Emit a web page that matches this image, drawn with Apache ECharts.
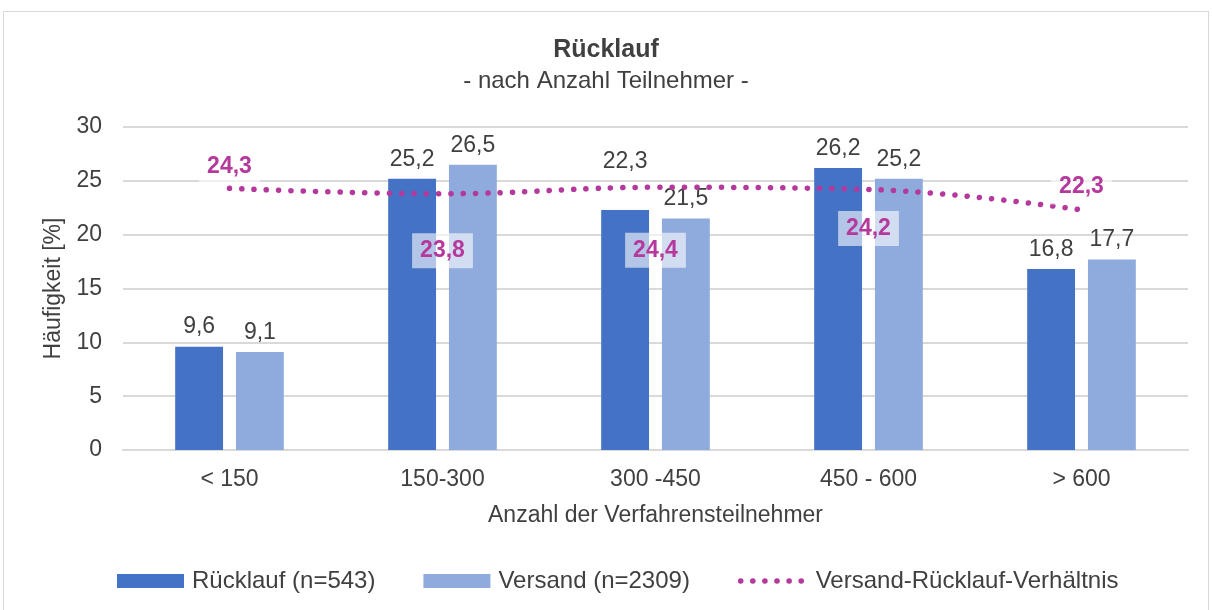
<!DOCTYPE html>
<html>
<head>
<meta charset="utf-8">
<script src="https://cdn.jsdelivr.net/npm/echarts@6/dist/echarts.min.js"></script>
<style>
  html, body { margin: 0; padding: 0; background: #fff; }
  #frame { position: absolute; left: 3px; top: 11px; width: 1206px; height: 610px; border: 1px solid #d9d9d9; box-sizing: border-box; }
  #chart { position: absolute; left: 0; top: 0; width: 1212px; height: 610px; }
</style>
</head>
<body>
<div id="frame"></div>
<div id="chart"></div>
<script>
var categories = ['< 150', '150-300', '300 -450', '450 - 600', '> 600'];
var ruecklauf = [9.6, 25.2, 22.3, 26.2, 16.8];
var versand = [9.1, 26.5, 21.5, 25.2, 17.7];
var verhaeltnis = [24.3, 23.8, 24.4, 24.2, 22.3];
// where each ratio label sits, relative to its point
var labelOffsets = [[0, -22], [0, 57], [0, 63], [0, 39], [0, -23]];

var font = 'Liberation Sans, Arial, sans-serif';
var chart = echarts.init(document.getElementById('chart'));

var lineData = [];
for (var i = 0; i < verhaeltnis.length; i++) {
  lineData.push({
    value: verhaeltnis[i],
    label: { offset: labelOffsets[i] }
  });
}

// the 300-450 label is pushed up above the dotted line
var ruecklaufData = [];
for (var i = 0; i < ruecklauf.length; i++) {
  var item = { value: ruecklauf[i] };
  if (i == 2) item.label = { offset: [0, -29] };
  ruecklaufData.push(item);
}

function komma(p) {
  return String(p.value).replace('.', ',');
}

chart.setOption({
  animation: false,
  textStyle: { fontFamily: font },
  title: {
    text: 'Rücklauf',
    subtext: '- nach Anzahl Teilnehmer -',
    left: 'center',
    top: 33,
    itemGap: 6,
    textStyle: { fontSize: 25, fontWeight: 'bold', color: '#404040', fontFamily: font },
    subtextStyle: { fontSize: 24, color: '#404040', fontFamily: font }
  },
  legend: {
    bottom: 12,
    left: 112,
    itemGap: 48,
    itemWidth: 67,
    itemHeight: 14,
    textStyle: { fontSize: 24, color: '#404040', fontFamily: font, padding: [0, 0, 0, 3] },
    data: [
      { name: 'Rücklauf (n=543)', icon: 'rect' },
      { name: 'Versand (n=2309)', icon: 'rect' },
      {
        name: 'Versand-Rücklauf-Verhältnis',
        itemStyle: { opacity: 0 },
        lineStyle: { width: 5.5, type: [0.1, 12], cap: 'round', color: '#b5399c' }
      }
    ]
  },
  grid: { left: 123, right: 24, top: 127, bottom: 160 },
  xAxis: {
    type: 'category',
    data: categories,
    name: 'Anzahl der Verfahrensteilnehmer',
    nameLocation: 'middle',
    nameGap: 54,
    nameTextStyle: { fontSize: 23, color: '#404040' },
    axisLine: { lineStyle: { color: '#d9d9d9', width: 2 } },
    axisTick: { show: false },
    axisLabel: { fontSize: 23, color: '#404040', margin: 18 }
  },
  yAxis: {
    type: 'value',
    min: 0,
    max: 30,
    interval: 5,
    name: 'Häufigkeit [%]',
    nameLocation: 'middle',
    nameGap: 45,
    nameTextStyle: { fontSize: 23, color: '#404040' },
    axisLabel: { fontSize: 23, color: '#404040', margin: 21 },
    splitLine: { lineStyle: { color: '#d9d9d9', width: 2 } }
  },
  series: [
    {
      name: 'Rücklauf (n=543)',
      type: 'bar',
      data: ruecklaufData,
      barGap: '27%',
      barCategoryGap: '49%',
      itemStyle: { color: '#4472c4' },
      label: { show: true, position: 'top', distance: 8, fontSize: 23, color: '#404040', formatter: komma }
    },
    {
      name: 'Versand (n=2309)',
      type: 'bar',
      data: versand,
      itemStyle: { color: '#8faadc' },
      label: { show: true, position: 'top', distance: 8, fontSize: 23, color: '#404040', formatter: komma }
    },
    {
      name: 'Versand-Rücklauf-Verhältnis',
      type: 'line',
      data: lineData,
      smooth: 0.4,
      symbol: 'circle',
      symbolSize: 0.1,
      z: 5,
      itemStyle: { color: '#b5399c' },
      lineStyle: { color: '#b5399c', width: 5.5, type: [0.1, 12.2], cap: 'round' },
      label: {
        show: true,
        position: 'inside',
        fontSize: 23,
        fontWeight: 'bold',
        color: '#b5399c',
        backgroundColor: 'rgba(255,255,255,0.6)',
        padding: [6, 8],
        formatter: komma
      }
    }
  ]
});
</script>
</body>
</html>
